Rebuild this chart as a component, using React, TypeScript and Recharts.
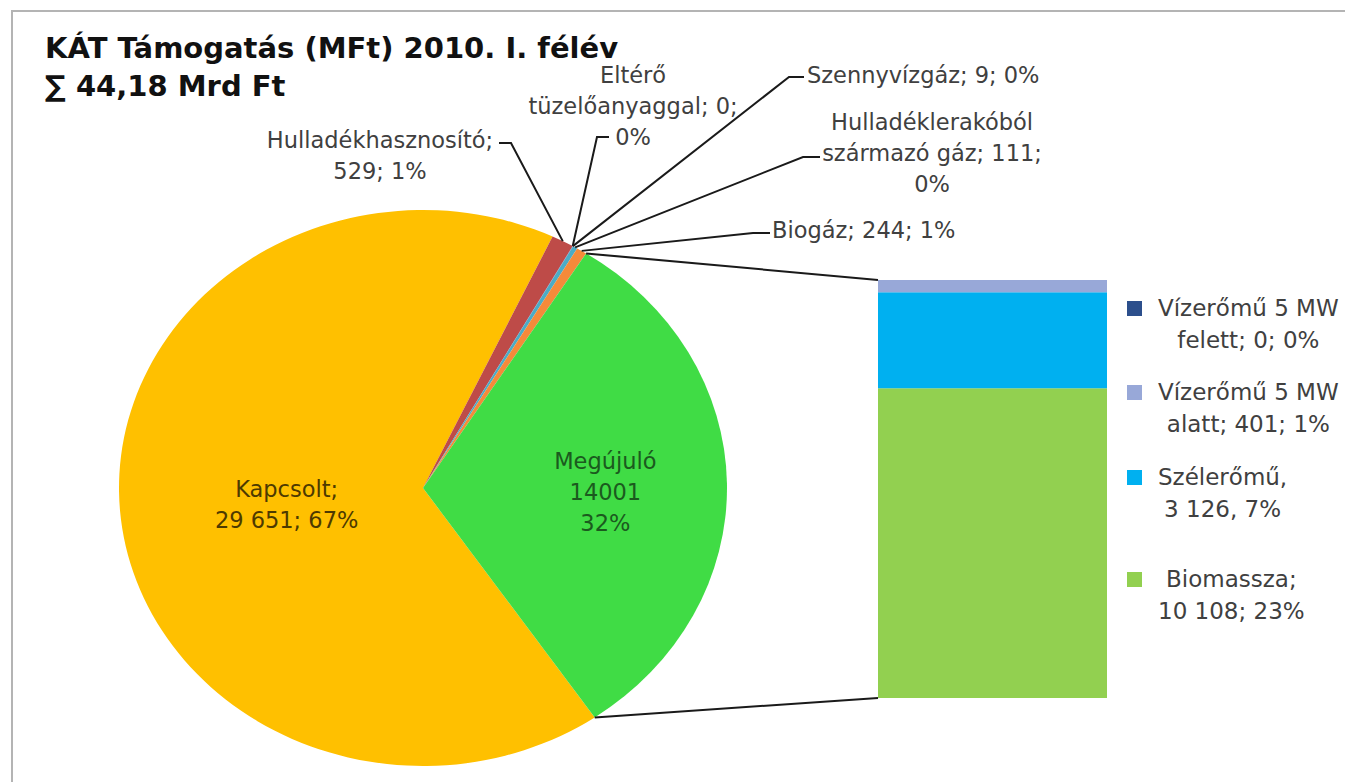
import { Bar, BarChart, Cell, Legend, Pie, PieChart, XAxis, YAxis } from "recharts";

// pie: main split, small slices get outside labels
const pieNames = [
  "Kapcsolt",
  "Hulladékhasznosító",
  "Eltérő tüzelőanyaggal",
  "Szennyvízgáz",
  "Hulladéklerakóból származó gáz",
  "Biogáz",
  "Megújuló",
];
const pieValues = [29651, 529, 0, 9, 111, 244, 14001];
const pieColors = ["#FFC000", "#BE4B48", "#9BBB59", "#8064A2", "#4BACC6", "#F58A3A", "#40DC45"];
const pieLabels = [
  ["Kapcsolt;", "29 651; 67%"],
  ["Hulladékhasznosító;", "529; 1%"],
  ["Eltérő", "tüzelőanyaggal; 0;", "0%"],
  ["Szennyvízgáz; 9; 0%"],
  ["Hulladéklerakóból", "származó gáz; 111;", "0%"],
  ["Biogáz; 244; 1%"],
  ["Megújuló", "14001", "32%"],
];

// bar: breakdown of "Megújuló", bottom to top
const barKeys = ["biomassza", "szeleromu", "vizAlatt", "vizFelett"];
const barNames = ["Biomassza", "Szélerőmű", "Vízerőmű 5 MW alatt", "Vízerőmű 5 MW felett"];
const barValues = [10108, 3126, 401, 0];
const barColors = ["#92D050", "#00B0F0", "#98A8D8", "#2C4F8C"];
const barLabels = [
  ["Biomassza;", "10 108; 23%"],
  ["Szélerőmű,", "3 126, 7%"],
  ["Vízerőmű 5 MW", "alatt; 401; 1%"],
  ["Vízerőmű 5 MW", "felett; 0; 0%"],
];

const titleLines = ["KÁT Támogatás (MFt) 2010. I. félév", "∑ 44,18 Mrd Ft"];

const pieData = pieNames.map((name, i) => ({ name, value: pieValues[i] }));
const barData = [
  Object.fromEntries([["name", "Megújuló"], ...barKeys.map((k, i) => [k, barValues[i]])]),
];

const W = 1345;
const H = 782;
const CX = 423;
const CY = 488;
const R = 278;
const SX = 304 / 278; // pie is drawn a bit wider than tall
const START = -55.6;
const BAR = { left: 878, top: 280, width: 229, height: 418 };
const FONT = "'DejaVu Sans', sans-serif";
const TEXT = "#404040";
const LH = 31;
const RAD = Math.PI / 180;

// label placement, relative to pie centre
const INNER: Record<number, { f: number; dy: number; color: string }> = {
  0: { f: 0.45, dy: 6, color: "#4D3A00" },
  6: { f: 0.6, dy: 7, color: "#1B5A1E" },
};
const OUTER: Record<number, { elbow: [number, number]; tick: number; tx: number; ty: number; anchor: "start" | "middle" }> = {
  1: { elbow: [88, -345], tick: -12, tx: -43, ty: -348, anchor: "middle" },
  2: { elbow: [174, -351], tick: 12, tx: 210, ty: -413, anchor: "middle" },
  3: { elbow: [366, -411], tick: 15, tx: 384, ty: -413, anchor: "start" },
  4: { elbow: [380, -331], tick: 17, tx: 509, ty: -366, anchor: "middle" },
  5: { elbow: [330, -255], tick: 17, tx: 349, ty: -258, anchor: "start" },
};
const LEGEND_GAPS = [0, 20, 21, 38];

const onEllipse = (cx: number, cy: number, r: number, angle: number) => ({
  x: cx + Math.cos(-angle * RAD) * r * SX,
  y: cy + Math.sin(-angle * RAD) * r,
});

function Lines({ x, y, lines, anchor, color }: { x: number; y: number; lines: string[]; anchor: string; color: string }) {
  return (
    <text x={x} y={y} textAnchor={anchor} fontFamily={FONT} fontSize={22.5} fill={color}>
      {lines.map((l, i) => (
        <tspan key={i} x={x} y={y + i * LH} dy="0.36em">
          {l}
        </tspan>
      ))}
    </text>
  );
}

function PieLabel(props: any) {
  const { cx, cy, outerRadius, midAngle, startAngle, endAngle, index } = props;
  const lines = pieLabels[index];
  const inner = INNER[index];
  if (inner) {
    const p = onEllipse(cx, cy, outerRadius * inner.f, midAngle);
    const top = p.y + inner.dy - ((lines.length - 1) * LH) / 2;
    const isOther = index === pieNames.length - 1;
    const a = onEllipse(cx, cy, outerRadius, startAngle);
    const b = onEllipse(cx, cy, outerRadius, endAngle);
    return (
      <g>
        {isOther && (
          <g stroke="#1a1a1a" strokeWidth={2}>
            <line x1={a.x} y1={a.y} x2={BAR.left} y2={BAR.top} />
            <line x1={b.x} y1={b.y} x2={BAR.left} y2={BAR.top + BAR.height} />
          </g>
        )}
        <Lines x={p.x} y={top} lines={lines} anchor="middle" color={inner.color} />
      </g>
    );
  }
  const o = OUTER[index];
  if (!o) return null;
  const from = onEllipse(cx, cy, outerRadius, midAngle);
  const ex = cx + o.elbow[0];
  const ey = cy + o.elbow[1];
  return (
    <g>
      <polyline
        points={`${from.x},${from.y} ${ex},${ey} ${ex + o.tick},${ey}`}
        fill="none"
        stroke="#1a1a1a"
        strokeWidth={2}
      />
      <Lines x={cx + o.tx} y={cy + o.ty} lines={lines} anchor={o.anchor} color={TEXT} />
    </g>
  );
}

function BarLegend({ payload }: any) {
  const items = [...(payload ?? [])].reverse();
  return (
    <div style={{ fontFamily: FONT, fontSize: 23, color: TEXT, lineHeight: "32px" }}>
      {items.map((it: any, i: number) => {
        const k = barKeys.indexOf(it.dataKey);
        return (
          <div key={it.dataKey} style={{ display: "flex", alignItems: "flex-start", marginTop: LEGEND_GAPS[i] }}>
            <span style={{ width: 15, height: 15, background: barColors[k], marginTop: 8.5, flex: "none" }} />
            <span style={{ marginLeft: 16, textAlign: "center", whiteSpace: "nowrap" }}>
              {barLabels[k].map((l) => (
                <div key={l}>{l}</div>
              ))}
            </span>
          </div>
        );
      })}
    </div>
  );
}

export default function App() {
  return (
    <div style={{ position: "absolute", left: 0, top: 0, width: W, height: H, overflow: "hidden", background: "#fff" }}>
      <div style={{ position: "absolute", left: 11, top: 10, width: 1500, height: 1000, border: "2px solid #b4b4b4" }} />
      <div
        style={{
          position: "absolute",
          left: 45,
          top: 29,
          fontFamily: FONT,
          fontWeight: "bold",
          fontSize: 29,
          lineHeight: "38px",
          color: "#111",
          whiteSpace: "nowrap",
        }}
      >
        {titleLines.map((t) => (
          <div key={t}>{t}</div>
        ))}
      </div>

      <div style={{ position: "absolute", left: 0, top: 0, transform: `scaleX(${SX})`, transformOrigin: `${CX}px ${CY}px` }}>
        <PieChart width={W} height={H} margin={{ top: 0, right: 0, bottom: 0, left: 0 }}>
          <Pie
            data={pieData}
            dataKey="value"
            nameKey="name"
            cx={CX}
            cy={CY}
            outerRadius={R}
            startAngle={START}
            endAngle={START - 360}
            stroke="none"
            label={false}
            labelLine={false}
            isAnimationActive={false}
          >
            {pieData.map((d, i) => (
              <Cell key={d.name} fill={pieColors[i]} />
            ))}
          </Pie>
        </PieChart>
      </div>

      <div style={{ position: "absolute", left: 0, top: 0 }}>
        <PieChart width={W} height={H} margin={{ top: 0, right: 0, bottom: 0, left: 0 }}>
          <Pie
            data={pieData}
            dataKey="value"
            nameKey="name"
            cx={CX}
            cy={CY}
            outerRadius={R}
            startAngle={START}
            endAngle={START - 360}
            fill="none"
            stroke="none"
            label={PieLabel}
            labelLine={false}
            isAnimationActive={false}
          />
        </PieChart>
      </div>

      <div style={{ position: "absolute", left: BAR.left, top: BAR.top }}>
        <BarChart
          width={BAR.width}
          height={BAR.height}
          data={barData}
          margin={{ top: 0, right: 0, bottom: 0, left: 0 }}
          barCategoryGap={0}
        >
          <XAxis dataKey="name" hide />
          <YAxis hide domain={[0, "dataMax"]} />
          {barKeys.map((k, i) => (
            <Bar key={k} dataKey={k} name={barNames[i]} stackId="m" fill={barColors[i]} isAnimationActive={false} />
          ))}
          <Legend
            layout="horizontal"
            align="center"
            verticalAlign="middle"
            content={BarLegend}
            wrapperStyle={{ left: 249, top: 12, width: 240 }}
          />
        </BarChart>
      </div>
    </div>
  );
}
